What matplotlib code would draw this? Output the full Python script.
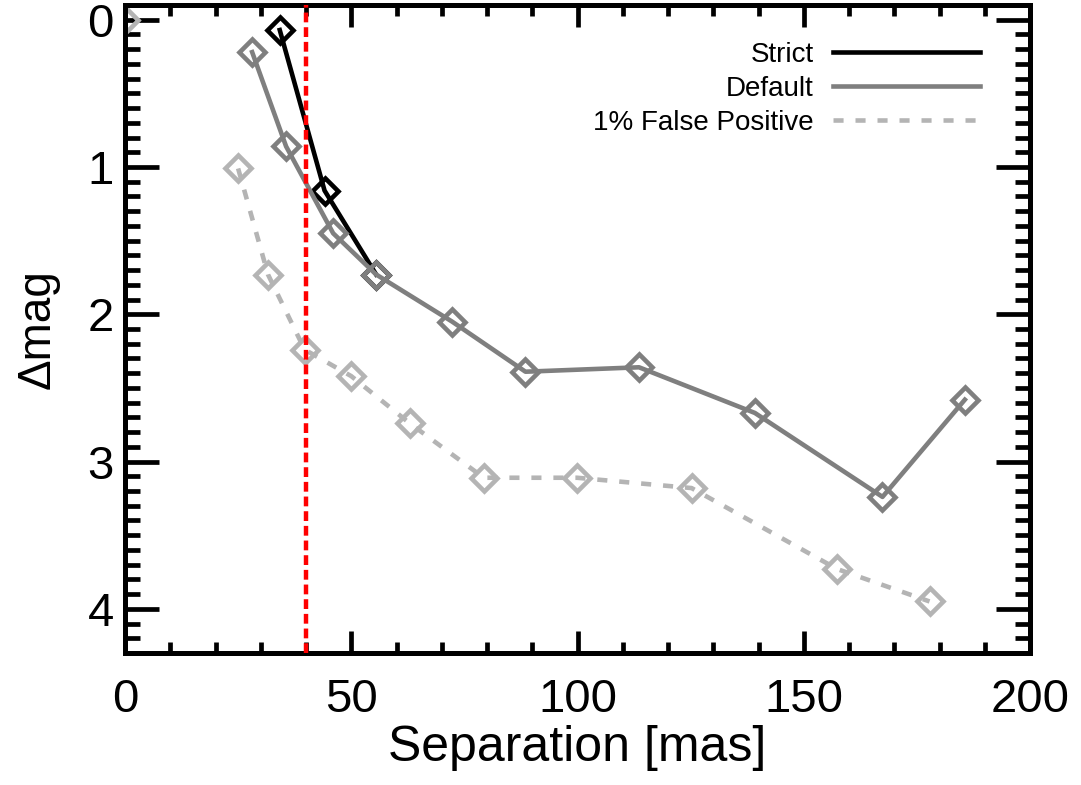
import matplotlib
matplotlib.use("Agg")
import matplotlib.pyplot as plt
from matplotlib.ticker import MultipleLocator

plt.rcParams['font.family'] = ['Liberation Sans', 'DejaVu Sans']

# contrast curves, separation in mas vs delta mag
strict_sep = [34.2, 44.1, 55.5]
strict_dmag = [0.07, 1.16, 1.73]

default_sep = [28.1, 35.6, 46.0, 55.5, 72.3, 88.5, 113.6, 139.2, 167.4, 185.6]
default_dmag = [0.22, 0.86, 1.45, 1.73, 2.05, 2.39, 2.36, 2.67, 3.24, 2.58]

fp_sep = [25.0, 31.6, 39.7, 50.0, 62.9, 79.3, 99.9, 125.2, 157.4, 177.8]
fp_dmag = [1.01, 1.73, 2.24, 2.42, 2.74, 3.11, 3.11, 3.18, 3.73, 3.95]
fp_origin_sep = [0.0]
fp_origin_dmag = [0.0]

sep_limit = 40

black = '#000000'
gray = '#7f7f7f'
light = '#b4b4b4'

fig = plt.figure(figsize=(10.81, 7.85), dpi=100)
ax = fig.add_axes([125/1081, 1-653/785, 905/1081, 648/785])

ms = 13.5
mew = 3.3
lw = 3.3

ax.plot(fp_sep, fp_dmag, color=light, lw=lw, ls=(0, (2.2, 2.6)),
        marker='D', ms=ms, mfc='none', mec=light, mew=mew,
        label='1% False Positive', zorder=2)
ax.plot(fp_origin_sep, fp_origin_dmag, ls='none', marker='D', ms=ms,
        mfc='none', mec=light, mew=mew, zorder=2)
ax.plot(strict_sep, strict_dmag, color=black, lw=lw, marker='D', ms=ms,
        mfc='none', mec=black, mew=mew, label='Strict', zorder=3)
ax.plot(default_sep, default_dmag, color=gray, lw=lw, marker='D', ms=ms,
        mfc='none', mec=gray, mew=mew, label='Default', zorder=4)
ax.axvline(sep_limit, color='red', lw=3.2, ls=(0, (2.2, 1.1)), zorder=5)

ax.set_xlim(0, 200)
ax.set_ylim(4.3, -0.1)
ax.xaxis.set_major_locator(MultipleLocator(50))
ax.xaxis.set_minor_locator(MultipleLocator(10))
ax.yaxis.set_major_locator(MultipleLocator(1))
ax.yaxis.set_minor_locator(MultipleLocator(0.1))

for s in ax.spines.values():
    s.set_linewidth(3.6)

ax.tick_params(axis='both', which='both', direction='in', top=True, right=True,
               width=3.4, labelsize=34)
ax.tick_params(axis='x', which='major', length=16, pad=18)
ax.tick_params(axis='x', which='minor', length=8)
ax.tick_params(axis='y', which='major', length=24.5, pad=8)
ax.tick_params(axis='y', which='minor', length=11)

ax.set_xlabel('Separation [mas]', fontsize=36, labelpad=2)
ax.set_ylabel('Δmag', fontsize=33, labelpad=20)

handles, labels = ax.get_legend_handles_labels()
order = [labels.index('Strict'), labels.index('Default'), labels.index('1% False Positive')]
leg = ax.legend([handles[i] for i in order], [labels[i] for i in order],
                loc='upper right', bbox_to_anchor=(0.945, 0.943), frameon=False,
                markerfirst=False, fontsize=20, handlelength=5.3,
                handletextpad=0.7, labelspacing=0.29, borderpad=0,
                borderaxespad=0)
for line in leg.get_lines():
    line.set_marker('')

fig.savefig('out.png', dpi=100)
